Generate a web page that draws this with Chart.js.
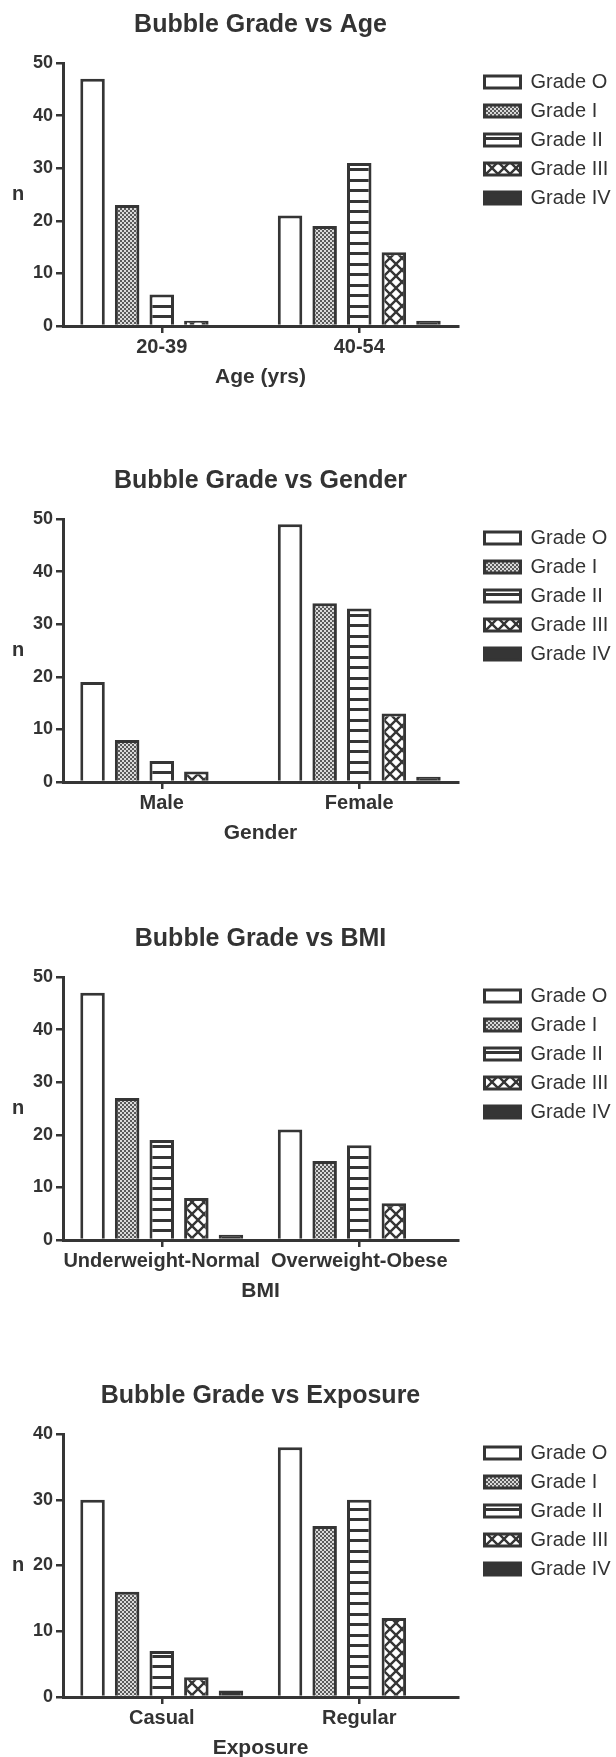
<!DOCTYPE html>
<html>
<head>
<meta charset="utf-8">
<script src="https://cdn.jsdelivr.net/npm/chart.js@4.4.0/dist/chart.umd.min.js"></script>
<style>
  html, body { margin: 0; padding: 0; background: #fff; overflow: hidden; }
  #wrap { position: relative; width: 616px; height: 1757px; overflow: hidden; }
  canvas { position: absolute; left: 0; }
</style>
</head>
<body>
<div id="wrap">
  <canvas id="c0" width="616" height="390" style="top:0px"></canvas>
  <canvas id="c1" width="616" height="390" style="top:456px"></canvas>
  <canvas id="c2" width="616" height="390" style="top:914px"></canvas>
  <canvas id="c3" width="616" height="390" style="top:1371px"></canvas>
</div>
<script>
// ---- data ----
const gradeLabels = ['Grade O', 'Grade I', 'Grade II', 'Grade III', 'Grade IV'];

const ageCategories = ['20-39', '40-54'];
const ageCounts = [[47, 21], [23, 19], [6, 31], [1, 14], [0, 1]];

const genderCategories = ['Male', 'Female'];
const genderCounts = [[19, 49], [8, 34], [4, 33], [2, 13], [0, 1]];

const bmiCategories = ['Underweight-Normal', 'Overweight-Obese'];
const bmiCounts = [[47, 21], [27, 15], [19, 18], [8, 7], [1, 0]];

const exposureCategories = ['Casual', 'Regular'];
const exposureCounts = [[30, 38], [16, 26], [7, 30], [3, 12], [1, 0]];

const chartTitles = ['Bubble Grade vs Age', 'Bubble Grade vs Gender', 'Bubble Grade vs BMI', 'Bubble Grade vs Exposure'];
const axisTitles = ['Age (yrs)', 'Gender', 'BMI', 'Exposure'];
const yMaxes = [50, 50, 50, 40];

// ---- fills ----
const INK = '#353535';
const FONT = "'Liberation Sans', Arial, sans-serif";

function tile(w, h, paint) {
    const c = document.createElement('canvas');
    c.width = w;
    c.height = h;
    const g = c.getContext('2d');
    g.fillStyle = '#fff';
    g.fillRect(0, 0, w, h);
    paint(g);
    return g.createPattern(c, 'repeat');
}

// fine stipple for grade I
const dotFill = tile(4, 4, g => {
    g.fillStyle = '#dadada';
    g.fillRect(0, 0, 4, 4);
    g.fillStyle = '#5a5a5a';
    g.fillRect(0, 0, 2, 2);
    g.fillRect(2, 2, 2, 2);
});

// horizontal stripes for grade II
const stripeFill = tile(8, 21, g => {
    g.fillStyle = INK;
    g.fillRect(0, 0, 8, 3);
    g.fillRect(0, 11, 8, 3);
});

// diagonal lattice for grade III
const crossFill = tile(12, 12, g => {
    g.strokeStyle = INK;
    g.lineWidth = 2.4;
    for (const k of [-12, 0, 12]) {
        g.beginPath();
        g.moveTo(k, 0); g.lineTo(k + 12, 12);
        g.moveTo(k + 12, 0); g.lineTo(k, 12);
        g.stroke();
    }
});

const gradeFills = ['#ffffff', dotFill, stripeFill, crossFill, INK];

Chart.defaults.font.family = FONT;
Chart.defaults.color = '#333';

// plot spans x 63..458 in every panel
const PLOT_RIGHT = 458;
const LEGEND_LEFT = 475.5;
const LEGEND_PAD = 9;
const LEGEND_BOX = 36;
const LEGEND_FONT = 20;

// legend width the way Chart.js sizes it: padding + box + gap + text + 10
const probe = document.createElement('canvas').getContext('2d');
probe.font = LEGEND_FONT + 'px ' + FONT;
const legendTextW = Math.max(...gradeLabels.map(t => probe.measureText(t).width));
const legendW = LEGEND_PAD + LEGEND_BOX + LEGEND_FONT / 2 + legendTextW + 10;
const padRight = Math.max(0, 616 - PLOT_RIGHT - legendW);

// unrotated "n" beside the y axis
const nLabel = {
    id: 'nLabel',
    afterDraw(chart) {
        const { ctx, chartArea } = chart;
        ctx.save();
        ctx.font = 'bold 20px ' + FONT;
        ctx.fillStyle = '#333';
        ctx.textAlign = 'center';
        ctx.textBaseline = 'middle';
        ctx.fillText('n', 18, (chartArea.top + chartArea.bottom) / 2);
        ctx.restore();
    }
};

// push the legend a little away from the plot
const legendShift = {
    id: 'legendShift',
    afterLayout(chart) {
        const lg = chart.legend;
        const dx = LEGEND_LEFT - lg.left;
        lg.left += dx;
        lg.right += dx;
    }
};

function makeChart(canvasId, title, xTitle, categories, counts, yMax) {
    const datasets = counts.map((data, i) => ({
        label: gradeLabels[i],
        data,
        backgroundColor: gradeFills[i],
        borderColor: INK,
        borderWidth: 3,
        categoryPercentage: 0.876,
        barPercentage: 0.708
    }));

    new Chart(document.getElementById(canvasId), {
        type: 'bar',
        data: { labels: categories, datasets },
        plugins: [nLabel, legendShift],
        options: {
            responsive: false,
            animation: false,
            devicePixelRatio: 1,
            layout: { padding: { left: 0, right: padRight, top: 0, bottom: 0 } },
            plugins: {
                title: {
                    display: true,
                    text: title,
                    fullSize: false,
                    color: '#333',
                    font: { size: 25, weight: 'bold' },
                    padding: { top: 10, bottom: 23 }
                },
                legend: {
                    position: 'right',
                    align: 'start',
                    fullSize: false,
                    labels: {
                        boxWidth: LEGEND_BOX,
                        boxHeight: 12,
                        padding: LEGEND_PAD,
                        color: '#333',
                        font: { size: LEGEND_FONT }
                    }
                },
                tooltip: { enabled: false }
            },
            scales: {
                x: {
                    z: 1,
                    grid: { display: true, drawOnChartArea: false, offset: false, tickLength: 7, color: INK, lineWidth: 2.5 },
                    border: { display: true, color: INK, width: 3 },
                    ticks: { color: '#333', font: { size: 20, weight: 'bold' }, padding: 2, maxRotation: 0, autoSkip: false },
                    title: { display: true, text: xTitle, color: '#333', font: { size: 21, weight: 'bold' }, padding: 0 },
                    afterFit(s) { s.height = 64; }
                },
                y: {
                    z: 1,
                    min: 0,
                    max: yMax,
                    ticks: { stepSize: 10, color: '#333', font: { size: 18, weight: 'bold' }, padding: 3 },
                    grid: { drawOnChartArea: false, tickLength: 7, color: INK, lineWidth: 2.5 },
                    border: { display: true, color: INK, width: 3 },
                    afterFit(s) { s.width = 63; }
                }
            }
        }
    });
}

makeChart('c0', chartTitles[0], axisTitles[0], ageCategories, ageCounts, yMaxes[0]);
makeChart('c1', chartTitles[1], axisTitles[1], genderCategories, genderCounts, yMaxes[1]);
makeChart('c2', chartTitles[2], axisTitles[2], bmiCategories, bmiCounts, yMaxes[2]);
makeChart('c3', chartTitles[3], axisTitles[3], exposureCategories, exposureCounts, yMaxes[3]);
</script>
</body>
</html>
